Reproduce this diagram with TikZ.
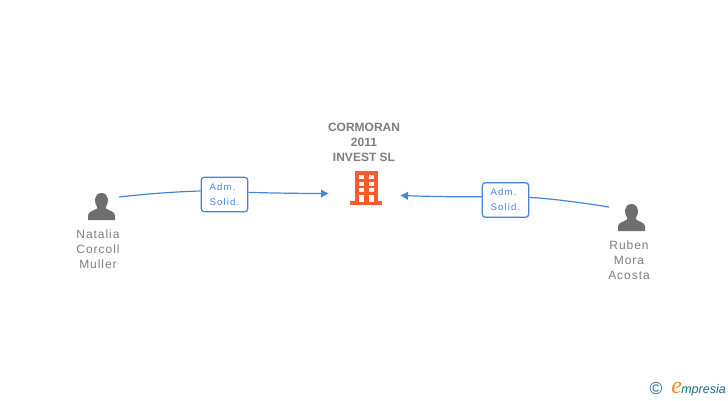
\documentclass[tikz,border=0pt]{standalone}
\usepackage{fontspec}
\setmainfont{Liberation Sans}
\newfontfamily\spacedfont[LetterSpace=8]{Liberation Sans}
\newfontfamily\smallspaced[LetterSpace=12]{Liberation Sans}
\newfontfamily\logofont{Liberation Serif}
\usetikzlibrary{arrows.meta}
\definecolor{linkblue}{RGB}{66,133,224}
\definecolor{namegray}{RGB}{125,125,125}
\definecolor{icongray}{RGB}{110,110,110}
\definecolor{towerred}{RGB}{255,90,45}
\definecolor{logoteal}{RGB}{25,110,130}
\definecolor{logoorange}{RGB}{245,140,30}
\newcommand{\personicon}[1]{%
  \fill[icongray, shift={(#1)}]
    (-13.5,13.5) -- (-13.5,9) .. controls (-13.5,5) and (-8,4.5) .. (-4.5,2)
    -- (-4.5,0) .. controls (-7.5,-3) and (-8,-13.5) .. (0,-13.5)
    .. controls (8,-13.5) and (7.5,-3) .. (4.5,0)
    -- (4.5,2) .. controls (8,4.5) and (13.5,5) .. (13.5,9) -- (13.5,13.5) -- cycle;
}
\begin{document}
\begin{tikzpicture}[x=0.75pt, y=-0.75pt,
                    title/.style = {align=center, text=namegray, font=\bfseries\fontsize{9}{11.2}\selectfont},
                    person/.style = {align=center, text=namegray, font=\spacedfont\fontsize{9}{11.2}\selectfont},
                    role/.style = {draw=linkblue, line width=0.9pt, rounded corners=2.5pt, fill=white, align=left,
                                   text=linkblue, minimum width=35pt, minimum height=26pt, inner sep=0pt,
                                   font=\smallspaced\fontsize{7.2}{11.2}\selectfont},
                    link/.style = {draw=linkblue, line width=0.9pt},
                    linkhead/.style = {link, -{Latex[length=6pt, width=6.5pt]}}]
\useasboundingbox (0,0) rectangle (728,400);

% company
\node[title] (company) at (364,142) {CORMORAN\\2011\\INVEST SL};
\fill[towerred] (355,171) rectangle (377.5,203);
\fill[towerred] (350,201) rectangle (382,205);
\foreach \wx in {361,371}
  \foreach \wy in {177,183.7,190.3}
    \fill[white] (\wx-2.5,\wy-2) rectangle (\wx+2.5,\wy+2);
\fill[white] (358.5,195) rectangle (363.5,201.5);
\fill[white] (368.5,195) rectangle (373.5,201.5);

% people
\personicon{101.5,206.5}
\node[person] (natalia) at (98,249) {Natalia\\Corcoll\\Muller};
\personicon{631.5,217.5}
\node[person] (ruben) at (629,260) {Ruben\\Mora\\Acosta};

% roles
\node[role] (roleleft) at (224.5,194.5) {\vspace*{1.5pt}Adm.\\Solid.};
\node[role] (roleright) at (505.5,200) {\vspace*{1.5pt}Adm.\\Solid.};

% link ends
\coordinate (nataliaend) at (119,197);
\coordinate (rubenend) at (609,207);
\coordinate (companyleft) at (329,193.5);
\coordinate (companyright) at (400,195.5);

\draw[link] (nataliaend) .. controls (150,193.5) and (180,191.5) .. ([yshift=2.6pt]roleleft.west);
\draw[linkhead] ([yshift=1.6pt]roleleft.east) .. controls (270,193) and (300,193.5) .. (companyleft);
\draw[link] (rubenend) .. controls (580,202.5) and (555,199) .. ([yshift=2pt]roleright.east);
\draw[linkhead] ([yshift=2.4pt]roleright.west) .. controls (460,197) and (430,196.5) .. (companyright);

% logo
\node[text=logoteal, inner sep=0pt, font=\fontsize{13}{13}\selectfont] (copysign) at (656,388.5) {\char"00A9};
\node[anchor=base west, inner sep=0pt, text=logoteal, font=\itshape\fontsize{9.4}{11}\selectfont] (brand) at (671,393)
  {{\color{logoorange}\logofont\itshape\fontsize{18}{16}\selectfont e}\kern-0.5pt mpresia};
\end{tikzpicture}
\end{document}
